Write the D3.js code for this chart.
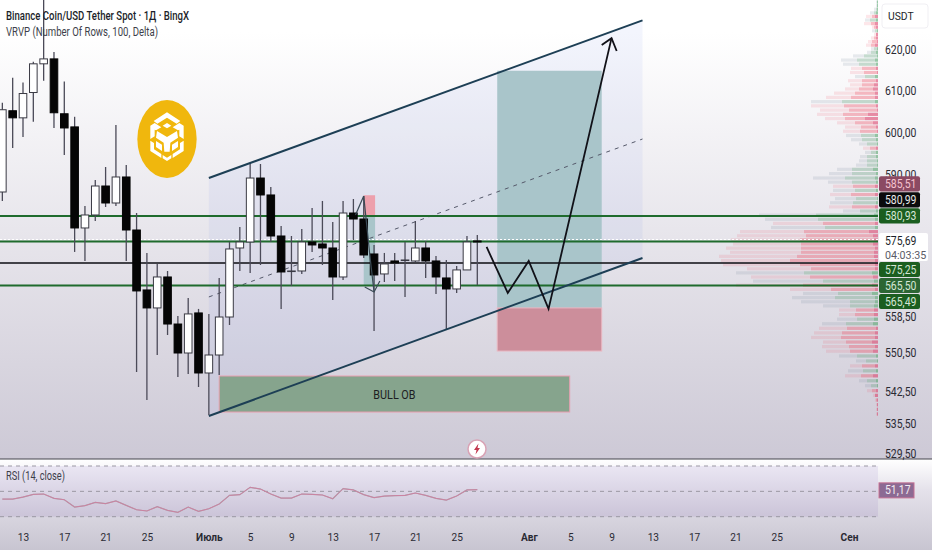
<!DOCTYPE html>
<html lang="en">
<head>
<meta charset="UTF-8">
<title>BNB/USDT</title>
<script src="https://d3js.org/d3.v7.min.js"></script>
<style>
  html, body { margin: 0; padding: 0; background: #fff; }
  svg { display: block; }
  text { font-family: Roboto, "Liberation Sans", sans-serif; }
</style>
</head>
<body>
<svg id="chart" width="932" height="550"></svg>
<script>
// candles, first one is 11 June, day 0 = 13 June
const firstDay = -2;
const opens = [586.23,605.30,603.61,609.64,616.63,617.83,604.58,601.45,578.25,581.13,587.56,583.79,589.56,577.80,564.50,560.51,567.38,556.94,550.50,559.40,546.40,550.09,558.50,573.81,575.14,589.33,585.57,576.47,568.71,568.71,575.14,574.70,573.81,567.38,581.57,580.24,572.48,568.05,570.93,571.15,570.93,573.81,570.93,567.16,564.72,568.94,575.37];
const highs = [607.23,613.25,612.05,617.11,634.46,619.52,612.29,603.86,583.13,588.89,591.90,601.93,592.38,581.57,572.71,570.27,568.71,558.74,562.73,560.29,559.18,567.16,575.14,578.47,592.86,592.62,587.34,578.69,576.47,578.03,582.68,584.24,579.58,584.24,584.68,585.34,574.48,572.71,572.71,575.14,579.80,575.37,572.04,571.15,569.82,576.47,576.70];
const lows = [584.24,596.43,599.05,602.65,612.53,601.20,594.76,572.93,570.93,579.80,582.90,583.13,570.93,546.60,540.75,550.09,554.50,545.58,546.19,543.53,537.47,545.99,556.72,568.71,568.27,570.04,575.14,560.29,565.39,568.05,572.93,570.04,562.28,566.72,575.58,571.60,555.39,566.27,566.50,562.95,570.71,567.16,563.61,555.83,563.84,568.94,565.61];
const closes = [605.54,603.61,609.40,616.63,617.83,604.82,601.20,578.25,581.13,587.56,583.79,589.56,577.80,564.28,560.51,567.38,556.94,550.50,559.18,546.40,550.09,558.50,573.59,575.14,589.33,585.57,576.47,568.49,568.71,575.14,574.48,573.81,567.38,581.57,580.24,572.26,567.83,570.27,570.49,571.15,573.81,570.93,567.38,564.72,568.94,575.14,575.14];

const rsi = [43.9,43.9,45.5,47.6,47.9,44.5,43.4,37.6,38.7,41.3,40.3,42.4,38.9,35.5,34.5,37.9,35.0,33.4,37.6,34.2,36.3,40.0,46.8,47.4,53.2,51.8,47.9,44.7,44.7,47.9,47.6,47.1,44.2,52.1,51.1,47.4,45.0,46.3,46.6,46.8,48.7,46.8,44.5,43.1,46.3,51.1,51.3];

// axis ticks
const tickDays = [0,4,8,12,18,22,26,30,34,38,42,49,53,57,61,65,69,73,80];
const tickLabels = ["13","17","21","25","Июль","5","9","13","17","21","25","Авг","5","9","13","17","21","25","Сен"];
const boldTicks = ["Июль","Авг","Сен"];
const priceTicks = [620,610,600,590,558.5,550.5,542.5,535.5,529.5];
const priceTickY = [50,91,133,175,317,353,392,424,454];

// volume profile rows, top to bottom
const vpTotal = [2,2,4,8,12,13,14,6,6,4,7,10,12,7,11,25,37,35,27,28,23,30,28,33,44,52,67,67,58,61,53,41,33,35,32,27,19,15,13,18,19,22,41,49,65,50,45,45,48,43,48,49,35,119,113,105,107,138,141,147,145,152,148,159,157,155,131,142,127,125,142,88,75,86,77,55,39,39,41,56,59,64,67,55,56,52,39,22,28,30,33,19,13,11,5,3,2,2,2];
const vpMid = [1,1,2,4,6,8,7,4,3,2,4,6,7,4,7,14,21,19,16,14,13,16,16,19,23,27,36,34,29,35,33,23,17,18,17,16,11,8,7,11,11,11,26,26,33,26,25,23,27,22,25,26,18,62,60,55,53,74,72,78,77,77,77,81,88,78,67,74,68,55,75,47,40,43,28,28,22,23,21,32,31,36,37,32,29,28,21,12,16,15,17,11,7,6,3,2,1,1,1];
const vpDelta = [1,1,1,2,3,2,3,2,1,2,2,1,3,1,2,1,3,2,2,1,3,2,4,5,3,3,3,2,1,10,13,5,2,1,3,2,1,2,2,2,1,1,5,2,3,2,3,2,3,1,2,3,2,4,3,3,3,9,5,4,5,3,4,4,3,3,3,6,5,4,6,3,6,3,3,4,4,4,4,5,2,3,3,6,3,5,2,1,3,2,5,2,1,2,3,1,1,1,1];
const vpDown = [0,0,0,0,1,0,1,1,0,1,1,1,1,0,0,0,0,0,1,1,0,1,1,1,1,1,0,1,1,1,1,1,1,1,0,0,0,1,0,0,0,0,0,0,0,0,1,0,1,0,0,1,0,0,0,1,0,1,1,1,1,1,1,1,1,1,1,0,1,0,1,1,0,0,0,0,1,1,0,0,1,1,1,1,1,1,0,0,1,0,1,0,0,1,1,1,1,1,1];
const vpRowAnchors = [0,15,44,76,98];
const vpPriceAnchors = [631.69,618.55,589.33,560.05,537.69];

// price levels
const greenLevels = [580.93,575.25,565.5];
const blackLevel = 570.49;
const lastPrice = 575.69;
const tagValues = [585.51,580.99,580.93,575.69,575.25,565.5,565.49];
const tagFills = ["#8b4a63","#0b0b0d","#1b5e20","#ffffff","#1b5e20","#2c6634","#1b5e20"];
const tagInks = ["#f6c3cf","#e8e8e8","#d5e6d5","#1c1f2a","#d5e6d5","#d5e6d5","#d5e6d5"];

// drawings: [day, price]
const channelTop = [[18,589.33],[60,627.23]];
const channelMid = [[18,562.95],[60,598.57]];
const channelBottom = [[18,537.25],[60,571.6]];
const projection = [[44.9,574.03],[46.95,563.84],[48.98,570.93],[50.9,560.29],[57,622.89]];
const projectionHead = [[56.05,621.2],[57,622.89],[57.5,619.76]];
const miniUp = [[32.2,581.13],[33,585.34]];
const miniDown = [[33,585.34],[33.6,572],[34,564.06]];
const miniHead = [[33.1,565.17],[34,564.06],[34.56,566.5]];
// zones: day from, day to, price top, price bottom
const targetZone = [45.93,56.05,614.94,560.51];
const stopZone = [45.93,56.05,560.51,550.94];
const miniTarget = [33,34.1,581.13,565.4];
const miniStop = [33,34.1,585.51,581.13];
const obZone = [19,52.95,545.78,538.12];

const rightEdge = 878;

const x = d3.scaleLinear().domain([0,80]).range([23,849]);
const y = d3.scaleLinear().domain(priceTicks).range(priceTickY);
const yRsi = d3.scaleLinear().domain([30,70]).range([516.7,466]);
const rowPrice = d3.scaleLinear().domain(vpRowAnchors).range(vpPriceAnchors);
const vpX = d3.scaleLinear().domain([0,160]).range([rightEdge,rightEdge-160]);

const svg = d3.select("#chart");
const defs = svg.append("defs");

function gradient(id, stops) {
  const g = defs.append("linearGradient").attr("id", id).attr("x1",0).attr("y1",0).attr("x2",0).attr("y2",1);
  stops.forEach(s => g.append("stop").attr("offset", s[0]).attr("stop-color", s[1]));
}
gradient("paneBg", [[0,"#ffffff"],[0.07,"#ffffff"],[1,"#cdc9d6"]]);
gradient("rsiBg", [[0,"#ffffff"],[0.35,"#e4e1ea"],[1,"#c8c5d1"]]);
gradient("rsiBand", [[0,"#eae6f3"],[1,"#cbc4d8"]]);

// squeeze text the way the picture has it, a bit narrower than the font
function squeeze(sel, k) {
  sel.each(function() {
    this.setAttribute("textLength", this.getComputedTextLength() * k);
    this.setAttribute("lengthAdjust", "spacingAndGlyphs");
  });
}

svg.append("rect").attr("width",932).attr("height",459).attr("fill","url(#paneBg)");
svg.append("rect").attr("y",459).attr("width",932).attr("height",91).attr("fill","url(#rsiBg)");
svg.append("line").attr("x1",0).attr("x2",932).attr("y1",459).attr("y2",459).attr("stroke","#45454d").attr("stroke-width",1);

// channel fill
const corners = [channelTop[0],channelTop[1],channelBottom[1],channelBottom[0]];
svg.append("polygon")
  .attr("points", corners.map(d => [x(d[0]),y(d[1])].join(",")).join(" "))
  .attr("fill","rgba(105,125,235,0.08)");

function zone(z, fill, stroke) {
  return svg.append("rect")
    .attr("x", x(z[0])).attr("width", x(z[1]) - x(z[0]))
    .attr("y", y(z[2])).attr("height", y(z[3]) - y(z[2]))
    .attr("fill", fill).attr("stroke", stroke || "none");
}
zone(targetZone, "#a9c5ca");
zone(stopZone, "#cc8e9b", "#eab7c1");
zone(miniTarget, "#a9c5ca");
zone(miniStop, "#eda0ac");
zone(obZone, "#86a48d", "#e8a0b0");

svg.append("text").attr("x", x((obZone[0]+obZone[1])/2)).attr("y", y((obZone[2]+obZone[3])/2)+4)
  .attr("text-anchor","middle").attr("font-size",12).attr("fill","#1d1d22").text("BULL OB")
  .call(squeeze, 0.9);

// volume profile
const vp = svg.append("g");
const rows = d3.range(vpTotal.length);
function vpBars(values, fill) {
  vp.append("g").selectAll("rect").data(rows).join("rect")
    .attr("x", i => vpX(values[i]))
    .attr("y", i => y(rowPrice(i)) - 1.6)
    .attr("width", i => rightEdge - vpX(values[i]))
    .attr("height", 3.2)
    .attr("fill", i => fill(i));
}
vpBars(vpTotal, i => vpDown[i] ? "rgba(242,70,95,0.13)" : "rgba(110,125,150,0.15)");
vpBars(vpMid, i => vpDown[i] ? "rgba(235,60,85,0.25)" : "rgba(80,170,100,0.22)");
vpBars(vpDelta, i => vpDown[i] ? "rgba(205,50,110,0.32)" : "rgba(60,160,85,0.32)");

// mid channel, levels
const line = d3.line().x(d => x(d[0])).y(d => y(d[1]));
svg.append("path").attr("d", line(channelMid)).attr("fill","none")
  .attr("stroke","#55596a").attr("stroke-width",1).attr("stroke-dasharray","4 5");

svg.append("g").selectAll("line").data(greenLevels).join("line")
  .attr("x1",0).attr("x2",rightEdge).attr("y1",d => y(d)).attr("y2",d => y(d))
  .attr("stroke","#1f6b2d").attr("stroke-width",2);
svg.append("line").attr("x1",0).attr("x2",rightEdge).attr("y1",y(blackLevel)).attr("y2",y(blackLevel))
  .attr("stroke","#0d0d12").attr("stroke-width",1.5);
svg.append("line").attr("x1",0).attr("x2",rightEdge).attr("y1",y(lastPrice)).attr("y2",y(lastPrice))
  .attr("stroke","#ffffff").attr("stroke-width",1).attr("stroke-dasharray","2 2");

// candles
const candles = d3.range(opens.length);
const cx = i => x(firstDay + i);
svg.append("g").selectAll("line").data(candles).join("line")
  .attr("x1",cx).attr("x2",cx)
  .attr("y1",i => y(highs[i])).attr("y2",i => y(lows[i]))
  .attr("stroke","#4b4a58").attr("stroke-width",1.3);
svg.append("g").selectAll("rect").data(candles).join("rect")
  .attr("x",i => cx(i) - 3.8)
  .attr("width",7.6)
  .attr("y",i => y(Math.max(opens[i],closes[i])))
  .attr("height",i => Math.max(Math.abs(y(opens[i]) - y(closes[i])),0.6))
  .attr("fill",i => closes[i] >= opens[i] ? "#ffffff" : "#050505")
  .attr("stroke",i => closes[i] >= opens[i] ? "#3a3a44" : "#050505")
  .attr("stroke-width",1);

// channel borders and the drawn paths
[channelTop, channelBottom].forEach(c => {
  svg.append("path").attr("d", line(c)).attr("fill","none")
    .attr("stroke","#1d3f55").attr("stroke-width",2);
});
[projection, projectionHead].forEach(p => {
  svg.append("path").attr("d", line(p)).attr("fill","none")
    .attr("stroke","#111118").attr("stroke-width",1.8).attr("stroke-linejoin","miter");
});
[miniUp, miniDown, miniHead].forEach(p => {
  svg.append("path").attr("d", line(p)).attr("fill","none")
    .attr("stroke","#3a4a55").attr("stroke-width",1.2);
});

// BNB logo
const logo = svg.append("g").attr("transform","translate(132,95) scale(0.3333)");
logo.append("ellipse").attr("cx",105).attr("cy",132).attr("rx",89).attr("ry",117).attr("fill","#f0b70d");
const logoPieces = [
  "65,78 105,52 145,78 134,86 105,68 76,86",
  "92,92 105,84 118,92 105,100",
  "75,108 105,126 135,108 138,128 115,143 113,170 97,170 95,143 72,128",
  "92,180 105,188 118,180 118,190 105,198 92,190"
];
const logoSidePieces = [
  "55,92 68,84 88,97 72,106 68,104 68,124 55,132",
  "55,137 66,144 66,163 88,177 88,189 55,168",
  "72,138 90,149 90,168 72,156"
];
logo.selectAll("polygon.c").data(logoPieces).join("polygon").attr("class","c")
  .attr("points",d => d).attr("fill","#ffffff");
logo.selectAll("polygon.l").data(logoSidePieces).join("polygon").attr("class","l")
  .attr("points",d => d).attr("fill","#ffffff");
logo.selectAll("polygon.r").data(logoSidePieces).join("polygon").attr("class","r")
  .attr("points",d => d).attr("fill","#ffffff")
  .attr("transform","translate(210,0) scale(-1,1)");

// lightning mark
const zap = svg.append("g").attr("transform","translate(477,449)");
zap.append("circle").attr("r",9).attr("fill","#ffffff").attr("stroke","#d9a3b5").attr("stroke-width",1.5);
zap.append("path").attr("d","M1.5,-5.5 L-3,1 L-0.5,1 L-1.5,5.5 L3,-1 L0.5,-1 Z").attr("fill","#c2384f");

// rsi pane
svg.append("rect").attr("y",yRsi(70)).attr("width",rightEdge).attr("height",yRsi(30)-yRsi(70)).attr("fill","url(#rsiBand)");
svg.append("g").selectAll("line").data([70,50,30]).join("line")
  .attr("x1",0).attr("x2",rightEdge).attr("y1",d => yRsi(d)).attr("y2",d => yRsi(d))
  .attr("stroke","#9b98a3").attr("stroke-width",1).attr("stroke-dasharray","4 4");
const rsiLine = d3.line().x((d,i) => cx(i)).y(d => yRsi(d));
svg.append("path").attr("d", rsiLine(rsi)).attr("fill","none").attr("stroke","#a5a2ab").attr("stroke-width",1.2);
svg.append("path").attr("d", rsiLine(rsi)).attr("fill","none").attr("stroke","#d77a9e").attr("stroke-width",0.8);

svg.append("rect").attr("x",879).attr("y",yRsi(51.17)-7).attr("width",35).attr("height",15).attr("fill","#8c6a93").attr("stroke","#c46f92");
svg.append("text").attr("x",885).attr("y",yRsi(51.17)+4.5).attr("font-size",12).attr("fill","#f3eaf2")
  .text(d3.format(".2f")(rsi[rsi.length-1] - 0.13).replace(".",",")).call(squeeze,0.87);

// axes
const xAxis = d3.axisBottom(x).tickValues(tickDays).tickSize(0).tickPadding(0)
  .tickFormat((d,i) => tickLabels[i]);
const xg = svg.append("g").attr("transform","translate(0,533)").call(xAxis);
xg.select(".domain").remove();
xg.selectAll("text").attr("font-size",11.5).attr("fill","#2a2a33").style("font-family","Roboto, sans-serif")
  .attr("font-weight",d => boldTicks.includes(tickLabels[tickDays.indexOf(d)]) ? 700 : 400)
  .call(squeeze,0.88);

const yAxis = d3.axisRight(y).tickValues(priceTicks).tickSize(0).tickPadding(0)
  .tickFormat(d => d3.format(".2f")(d).replace(".",","));
const yg = svg.append("g").attr("transform","translate(885,0)").call(yAxis);
yg.select(".domain").remove();
yg.selectAll("text").attr("font-size",12).attr("fill","#2a2a33").style("font-family","Roboto, sans-serif").call(squeeze,0.87);

svg.append("rect").attr("x",882).attr("y",4).attr("width",46).attr("height",24).attr("rx",3).attr("fill","#ffffff").attr("stroke","#f0eff3");
svg.append("text").attr("x",888).attr("y",20).attr("font-size",11.5).attr("fill","#1c1f2a").text("USDT").call(squeeze,0.9);

// price tags, pushed apart from the third one (580,93) which sits on its level
const tagH = 16, blockH = 29;
const tagBox = tagValues.map(v => ({ top: y(v) - (v === lastPrice ? 7 : tagH/2), h: v === lastPrice ? blockH : tagH }));
for (let i = 3; i < tagBox.length; i++) {
  tagBox[i].top = Math.max(tagBox[i].top, tagBox[i-1].top + tagBox[i-1].h);
}
for (let i = 1; i >= 0; i--) {
  tagBox[i].top = Math.min(tagBox[i].top, tagBox[i+1].top - tagBox[i].h);
}
const tags = svg.append("g");
tagValues.forEach((v,i) => {
  const b = tagBox[i];
  tags.append("rect").attr("x",879).attr("y",b.top+0.4).attr("width",v === lastPrice ? 49 : 41).attr("height",b.h-0.8)
    .attr("rx",2).attr("fill",tagFills[i]);
  tags.append("text").attr("x",885).attr("y",b.top+12).attr("font-size",12).attr("fill",tagInks[i])
    .text(d3.format(".2f")(v).replace(".",",")).call(squeeze,0.87);
});
tags.append("text").attr("x",885).attr("y",tagBox[3].top+26).attr("font-size",11.5).attr("fill","#5a5c68")
  .text("04:03:35").call(squeeze,0.93);

// headers
svg.append("text").attr("x",6).attr("y",20).attr("font-size",12).attr("font-weight",500).attr("fill","#1c1f2a")
  .attr("textLength",183).attr("lengthAdjust","spacingAndGlyphs").text("Binance Coin/USD Tether Spot · 1Д · BingX");
svg.append("text").attr("x",6).attr("y",36).attr("font-size",12).attr("fill","#3d3f4a")
  .attr("textLength",152).attr("lengthAdjust","spacingAndGlyphs").text("VRVP (Number Of Rows, 100, Delta)");
svg.append("text").attr("x",6).attr("y",480).attr("font-size",12).attr("fill","#3d3f4a")
  .attr("textLength",59).attr("lengthAdjust","spacingAndGlyphs").text("RSI (14, close)");
</script>
</body>
</html>
